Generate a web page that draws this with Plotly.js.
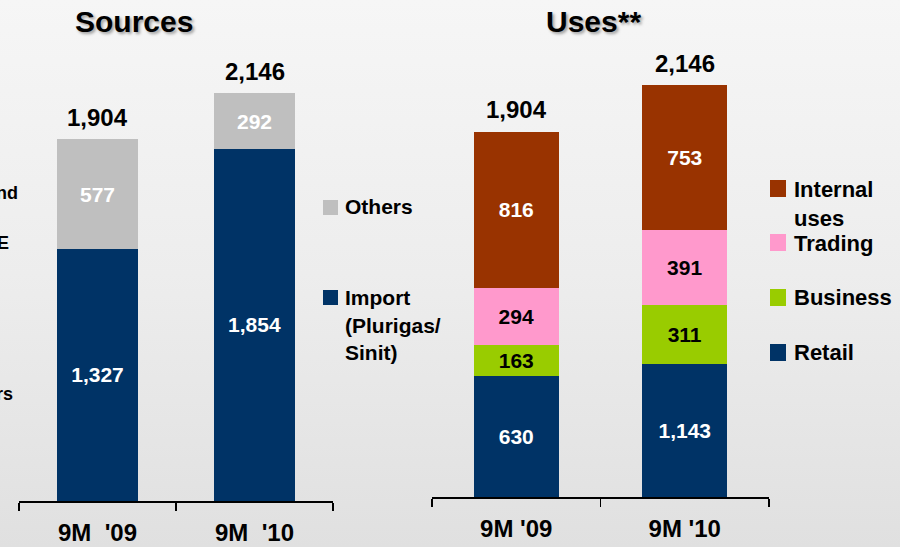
<!DOCTYPE html>
<html>
<head>
<meta charset="utf-8">
<script src="https://cdn.plot.ly/plotly-3.0.1.min.js"></script>
<style>
  html, body { margin: 0; padding: 0; }
  #chart { width: 900px; height: 547px; background: linear-gradient(to bottom, #f6f6f6 0%, #ededed 50%, #e0e0e0 100%); }
</style>
</head>
<body>
<div id="chart"></div>
<script>
// ---- Data ----
const categories = ["9M '09", "9M '10"];
const sourcesTickLabels = ["9M\u00a0\u00a0'09", "9M\u00a0\u00a0'10"];
const usesTickLabels = ["9M '09", "9M '10"];

const sourcesImport = [1327, 1854];
const sourcesOthers = [577, 292];
const sourcesTotals = [1904, 2146];

// Retail 9M '10 is printed "1,143" in the picture, but its bar is drawn as the remainder of 2,146 (691)
const usesRetail = [630, 691];
const usesRetailLabels = ["630", "1,143"];
const usesBusiness = [163, 311];
const usesTrading = [294, 391];
const usesInternal = [816, 753];
const usesTotals = [1904, 2146];

// ---- Styles ----
const FONT = "Liberation Sans, Arial, Helvetica, sans-serif";
const NAVY = "#003366";
const GRAY = "#bfbfbf";
const BROWN = "#993300";
const PINK = "#ff99cc";
const GREEN = "#99cc00";
const W = 900, H = 547;
const px = x => x / W;
const py = y => 1 - y / H;
const fmt = v => v.toLocaleString('en-US');

function barTrace(xa, ya, vals, color, textColor, name, labels, width) {
  return {
    type: 'bar', x: categories, y: vals, name: name,
    xaxis: xa, yaxis: ya, width: width,
    marker: { color: color, line: { width: 0 } },
    text: labels || vals.map(fmt), texttemplate: '%{text}',
    textposition: 'inside', insidetextanchor: 'middle', textangle: 0,
    constraintext: 'none',
    textfont: { family: FONT, size: 21, color: textColor, weight: 'bold' },
    hoverinfo: 'skip', showlegend: false
  };
}

const data = [
  barTrace('x', 'y', sourcesImport, NAVY, '#ffffff', 'Import (Plurigas/ Sinit)', null, 0.51),
  barTrace('x', 'y', sourcesOthers, GRAY, '#ffffff', 'Others', null, 0.51),
  barTrace('x2', 'y2', usesRetail, NAVY, '#ffffff', 'Retail', usesRetailLabels, 0.505),
  barTrace('x2', 'y2', usesBusiness, GREEN, '#000000', 'Business', null, 0.505),
  barTrace('x2', 'y2', usesTrading, PINK, '#000000', 'Trading', null, 0.505),
  barTrace('x2', 'y2', usesInternal, BROWN, '#ffffff', 'Internal uses', null, 0.505)
];

const annotations = [];
function txt(x, y, text, size, opts) {
  annotations.push(Object.assign({
    xref: 'paper', yref: 'paper', x: px(x), y: py(y), text: text,
    showarrow: false, xanchor: 'left', yanchor: 'middle',
    font: { family: FONT, size: size, color: '#000000', weight: 'bold' }
  }, opts || {}));
}
// titles with soft shadow
[["Sources", 134], ["Uses**", 593]].forEach(([t, cx]) => {
  txt(cx, 22, t, 30, { xanchor: 'center',
    font: { family: FONT, size: 30, color: '#000000', weight: 'bold', shadow: '2px 2px 3px rgba(0,0,0,0.35)' } });
});
// totals
sourcesTotals.forEach((v, i) => annotations.push({
  xref: 'x', yref: 'y', x: categories[i], y: v, text: fmt(v), showarrow: false,
  yanchor: 'bottom', yshift: 6, font: { family: FONT, size: 24, color: '#000', weight: 'bold' }
}));
usesTotals.forEach((v, i) => annotations.push({
  xref: 'x2', yref: 'y2', x: categories[i], y: v, text: fmt(v), showarrow: false,
  yanchor: 'bottom', yshift: 6, font: { family: FONT, size: 24, color: '#000', weight: 'bold' }
}));
// legends
txt(343, 207, "Others", 21);
txt(343, 298, "Import", 21);
txt(343, 325, "(Plurigas/", 21);
txt(343, 352, "Sinit)", 21);
txt(792, 189, "Internal", 22);
txt(792, 218, "uses", 22);
txt(792, 243, "Trading", 22);
txt(792, 297, "Business", 22);
txt(792, 352, "Retail", 22);
// fragments of text cut off at the left edge (as in the reference)
txt(20, 193, "nd", 18, { xanchor: 'right' });
txt(11, 243, "E", 18, { xanchor: 'right' });
txt(15, 394, "rs", 18, { xanchor: 'right' });

const shapes = [];
function sq(x0, y0, x1, y1, color) {
  shapes.push({ type: 'rect', xref: 'paper', yref: 'paper', x0: px(x0), x1: px(x1), y0: py(y1), y1: py(y0),
    fillcolor: color, line: { width: 0 } });
}
sq(323, 200, 338, 215, GRAY);
sq(323, 290, 338, 305, NAVY);
sq(770, 180, 786, 197, BROWN);
sq(770, 234, 786, 251, PINK);
sq(770, 289, 786, 306, GREEN);
sq(770, 344, 786, 361, NAVY);

function xAxis(domain, ticktext, anchor) {
  return {
    domain: domain, anchor: anchor, type: 'category', range: [-0.5, 1.5],
    tickvals: categories, ticktext: ticktext, tickson: 'boundaries',
    ticks: 'outside', ticklen: 8, tickwidth: 1.5, tickcolor: '#000',
    showline: true, linecolor: '#000', linewidth: 1.5, showgrid: false, zeroline: false,
    ticklabelstandoff: 10,
    tickfont: { family: FONT, size: 24, color: '#000', weight: 'bold' }, fixedrange: true
  };
}
function yAxis(domain, anchor) {
  return { domain: domain, anchor: anchor, range: [0, 2300], visible: false, showgrid: false, zeroline: false, fixedrange: true };
}

const layout = {
  width: W, height: H,
  margin: { l: 0, r: 0, t: 0, b: 0, pad: 0 },
  paper_bgcolor: 'rgba(0,0,0,0)', plot_bgcolor: 'rgba(0,0,0,0)',
  barmode: 'stack', showlegend: false,
  font: { family: FONT },
  xaxis: xAxis([px(19), px(333)], sourcesTickLabels, 'y'),
  yaxis: yAxis([py(501), py(64)], 'x'),
  xaxis2: xAxis([px(432), px(769)], usesTickLabels, 'y2'),
  yaxis2: yAxis([py(497), py(55.4)], 'x2'),
  annotations: annotations, shapes: shapes
};

Plotly.newPlot('chart', data, layout, { staticPlot: true, displayModeBar: false });
</script>
</body>
</html>
